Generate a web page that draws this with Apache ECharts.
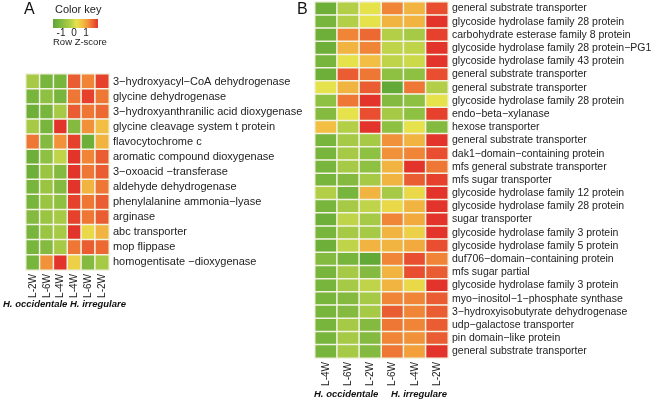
<!DOCTYPE html>
<html><head><meta charset="utf-8">
<script src="https://cdn.jsdelivr.net/npm/echarts@6/dist/echarts.min.js"></script>
<style>html,body{margin:0;padding:0;background:#fff}#c{width:655px;height:405px}</style>
</head><body><div id="c"></div>
<script>
// Panel A
const colsA = ['L-2W','L-6W','L-4W','L-4W','L-6W','L-2W'];
const rowsA = ['3\u2212hydroxyacyl\u2212CoA dehydrogenase','glycine dehydrogenase','3\u2212hydroxyanthranilic acid dioxygenase','glycine cleavage system t protein','flavocytochrome c','aromatic compound dioxygenase','3\u2212oxoacid \u2212transferase','aldehyde dehydrogenase','phenylalanine ammonia\u2212lyase','arginase','abc transporter','mop flippase','homogentisate \u2212dioxygenase'];
const zA = [
 [-0.6,-1.0,-1.0, 1.1, 0.8, 1.3],
 [-1.0,-0.8,-1.0, 0.9, 1.3, 0.9],
 [-1.1,-1.0,-0.6, 1.1, 0.9, 1.0],
 [-0.6,-1.0, 1.4,-0.9, 0.7, 0.3],
 [ 0.9,-0.9, 0.7, 1.3,-1.1, 0.4],
 [-1.1,-0.8,-0.4, 1.4, 0.8, 1.1],
 [-1.1,-0.7,-0.9, 1.4, 0.9, 1.1],
 [-1.0,-0.7,-0.9, 1.5, 0.4, 0.9],
 [-1.0,-0.7,-0.8, 1.3, 0.9, 1.1],
 [-0.9,-0.7,-0.6, 1.3, 0.9, 1.1],
 [-1.0,-0.7,-0.6, 1.5, 0.0, 0.4],
 [-1.0,-0.9,-0.6, 0.9, 1.1, 1.0],
 [-1.0, 0.7, 1.4, 0.1,-0.9,-0.6]
];
// Panel B
const colsB = ['L-4W','L-6W','L-2W','L-6W','L-4W','L-2W'];
const rowsB = ['general substrate transporter','glycoside hydrolase family 28 protein','carbohydrate esterase family 8 protein','glycoside hydrolase family 28 protein\u2212PG1','glycoside hydrolase family 43 protein','general substrate transporter','general substrate transporter','glycoside hydrolase family 28 protein','endo\u2212beta\u2212xylanase','hexose transporter','general substrate transporter','dak1\u2212domain\u2212containing protein','mfs general substrate transporter','mfs sugar transporter','glycoside hydrolase family 12 protein','glycoside hydrolase family 28 protein','sugar transporter','glycoside hydrolase family 3 protein','glycoside hydrolase family 5 protein','duf706\u2212domain\u2212containing protein','mfs sugar partial','glycoside hydrolase family 3 protein','myo\u2212inositol\u22121\u2212phosphate synthase','3\u2212hydroxyisobutyrate dehydrogenase','udp\u2212galactose transporter','pin domain\u2212like protein','general substrate transporter'];
const zB = [
 [-1.1,-0.5,-0.1, 0.8, 0.4, 1.2],
 [-1.0,-0.5,-0.1, 0.4, 0.4, 1.5],
 [-1.1, 0.8, 1.0,-0.5,-0.6, 1.3],
 [-1.1, 0.4, 0.8,-0.4,-0.4, 1.4],
 [-1.0,-0.1, 0.3,-0.4,-0.3, 1.5],
 [-1.1, 1.1, 0.9,-0.8,-0.8, 1.2],
 [-0.1, 0.4, 1.1,-1.2, 0.9,-0.5],
 [-0.8, 0.9, 1.5,-0.9,-0.8,-0.1],
 [-0.9,-0.1, 1.2,-0.6,-0.8, 1.3],
 [ 0.3,-0.5, 1.5,-0.8,-0.1,-0.9],
 [-1.0,-0.6,-0.6, 0.7, 0.4, 1.4],
 [-1.0,-0.6,-0.8, 0.7, 0.8, 1.2],
 [-1.0,-0.6,-0.8, 0.4, 1.4, 0.9],
 [-1.0,-0.9,-0.6, 0.4, 1.1, 1.3],
 [-0.5,-1.0, 0.4,-0.6, 0.0, 1.5],
 [-1.0,-0.6,-0.4, 0.0, 0.4, 1.5],
 [-1.1,-0.4,-0.6, 0.8, 0.5, 1.4],
 [-1.0,-0.6,-0.6, 0.4, 0.1, 1.4],
 [-1.1,-0.4, 0.4, 0.4, 0.5, 1.2],
 [-0.9,-1.0,-1.2, 0.8, 1.2, 0.8],
 [-1.0,-0.6,-0.9, 0.4, 1.2, 1.1],
 [-1.0,-0.6,-0.4, 0.4, 0.0, 1.5],
 [-1.0,-0.9,-0.6, 0.8, 0.8, 1.1],
 [-1.0,-0.9,-0.6, 1.1, 0.8, 1.1],
 [-1.0,-0.6,-0.9, 0.9, 0.8, 1.1],
 [-1.0,-0.6,-0.9, 0.8, 0.7, 1.1],
 [-1.0,-0.6,-0.9, 0.9, 0.6, 1.4]
];
const groups = ['H. occidentale','H. irregulare'];
const keyTicks = ['-1','0','1'];

const palette = ['#5ea636','#86bc40','#b3cf47','#e5e34b','#f2c244','#f29a3b','#ec6632','#e3342b'];
function toData(z){const d=[];z.forEach((r,i)=>r.forEach((v,j)=>d.push([j,i,v])));return d;}

const chart = echarts.init(document.getElementById('c'));
const cellStyle = {borderColor:'#f3f3e3', borderWidth:1.5};
function xAx(idx, cats, fs){return {type:'category', gridIndex:idx, data:cats, axisLine:{show:false}, axisTick:{show:false}, splitArea:{show:false},
  axisLabel:{rotate:90, interval:0, fontSize:fs, color:'#222', margin:4, fontFamily:'Liberation Sans, Arial'}};}
function yAx(idx, cats, fs){return {type:'category', gridIndex:idx, data:cats, inverse:true, position:'right', axisLine:{show:false}, axisTick:{show:false},
  axisLabel:{interval:0, fontSize:fs, color:'#222', margin:4, fontFamily:'Liberation Sans, Arial'}};}
const graphic = [
  {type:'text', left:24, top:2, style:{text:'A', font:'16px Liberation Sans', fill:'#111'}},
  {type:'text', left:297, top:2, style:{text:'B', font:'16px Liberation Sans', fill:'#111'}},
  {type:'text', left:55, top:4, style:{text:'Color key', font:'11px Liberation Sans', fill:'#222'}},
  {type:'rect', shape:{x:53, y:19, width:45, height:9}, style:{fill:new echarts.graphic.LinearGradient(0,0,1,0,[
    {offset:0,color:palette[0]},{offset:0.2,color:palette[1]},{offset:0.38,color:palette[2]},{offset:0.52,color:palette[3]},
    {offset:0.64,color:palette[4]},{offset:0.76,color:palette[5]},{offset:0.88,color:palette[6]},{offset:1,color:palette[7]}])}},
  {type:'text', left:53, top:37, style:{text:'Row Z-score', font:'9.5px Liberation Sans', fill:'#222'}}
];
const tickX=[61,74,86];
keyTicks.forEach((t,i)=>graphic.push({type:'text', x:tickX[i], y:28, style:{text:t, font:'10px Liberation Sans', fill:'#222', align:'center'}}));
const gpos=[[3,304],[70,304],[314,394],[391,394]];
[groups[0],groups[1],groups[0],groups[1]].forEach((g,i)=>graphic.push({type:'text', x:gpos[i][0], y:gpos[i][1], style:{text:g, font:'italic bold 9.5px Liberation Sans', fill:'#111', verticalAlign:'middle'}}));

chart.setOption({
  animation:false,
  backgroundColor:'#fff',
  grid:[{left:26, top:74, width:83, height:196},{left:315, top:2, width:133, height:356}],
  xAxis:[xAx(0,colsA,10), xAx(1,colsB,10)],
  yAxis:[yAx(0,rowsA,11), yAx(1,rowsB,10.5)],
  visualMap:{show:false, type:'continuous', min:-1.25, max:1.4, seriesIndex:[0,1], inRange:{color:palette}},
  series:[
    {type:'heatmap', xAxisIndex:0, yAxisIndex:0, data:toData(zA), itemStyle:cellStyle},
    {type:'heatmap', xAxisIndex:1, yAxisIndex:1, data:toData(zB), itemStyle:cellStyle}
  ],
  graphic:graphic
});
</script></body></html>
